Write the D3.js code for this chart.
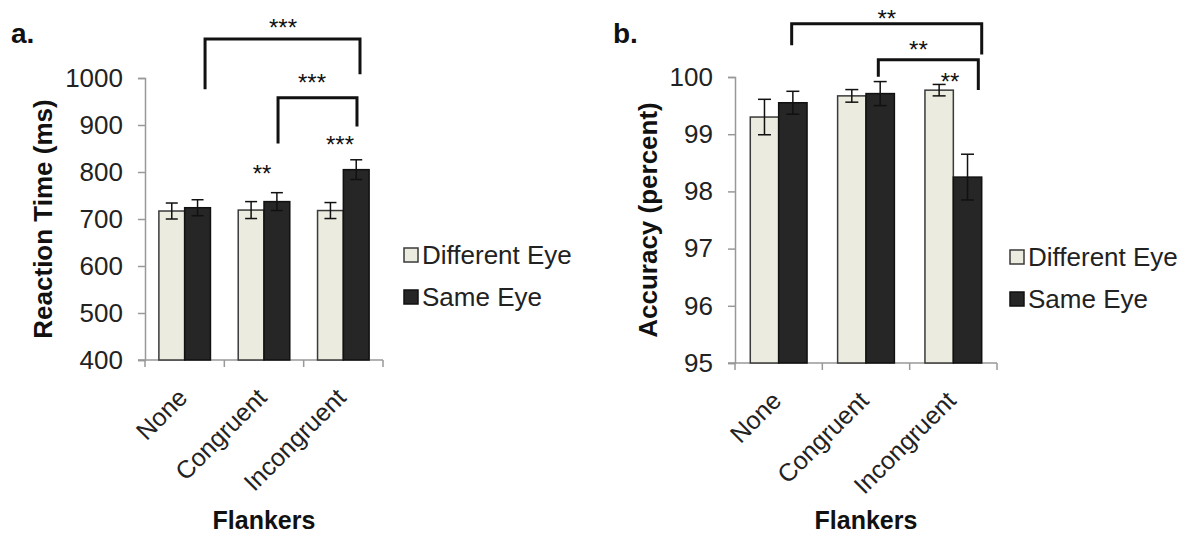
<!DOCTYPE html>
<html>
<head>
<meta charset="utf-8">
<script src="https://cdn.jsdelivr.net/npm/d3@7"></script>
<style>
  html, body { margin: 0; padding: 0; background: #fff; }
  svg { display: block; font-family: "Liberation Sans", Arial, Helvetica, sans-serif; }
</style>
</head>
<body>
<svg id="chart" width="1188" height="535"></svg>
<script>
// ---------- DATA ----------
const categories = ["None", "Congruent", "Incongruent"];
const seriesNames = ["Different Eye", "Same Eye"];

// Panel a: Reaction Time (ms)
const rtDifferent = [717, 719, 718];
const rtSame = [724, 737, 805];
const rtDifferentErr = [17, 18, 17];
const rtSameErr = [17, 19, 21];
const rtTicks = [400, 500, 600, 700, 800, 900, 1000];

// Panel b: Accuracy (percent)
const accDifferent = [99.30, 99.67, 99.77];
const accSame = [99.55, 99.71, 98.25];
const accDifferentErr = [0.31, 0.11, 0.10];
const accSameErr = [0.20, 0.21, 0.40];
const accTicks = [95, 96, 97, 98, 99, 100];

// Significance brackets: [fromCategory, fromFraction, toCategory, toFraction, topY, leftLegY, rightLegY]
const rtBrackets = [
  ["None", 0.757, "Incongruent", 0.71, 1083, 979, 1011],
  ["Congruent", 0.677, "Incongruent", 0.672, 958, 864, 900]
];
// Star labels: [text, category, fraction, y]
const rtStars = [
  ["***", "Congruent", 0.74, 1119],
  ["***", "Incongruent", 0.105, 1002],
  ["**", "Congruent", 0.475, 810],
  ["***", "Incongruent", 0.458, 872]
];
const accBrackets = [
  ["None", 0.649, "Incongruent", 0.825, 100.93, 100.58, 100.42],
  ["Congruent", 0.641, "Incongruent", 0.786, 100.30, 100.03, 99.80]
];
const accStars = [
  ["**", "Congruent", 0.738, 101.13],
  ["**", "Incongruent", 0.10, 100.59],
  ["**", "Incongruent", 0.462, 100.02]
];

// ---------- STYLE ----------
const fills = ["#ecebdf", "#262626"];
const strokes = ["#3a3a3a", "#111111"];
const axisColor = "#999999";
const textColor = "#222222";

const svg = d3.select("#chart");

function drawPanel(cfg) {
  const g = svg.append("g");
  const x = d3.scaleBand().domain(categories).range([cfg.x0, cfg.x1]).paddingInner(0).paddingOuter(0);
  const y = d3.scaleLinear().domain(cfg.domain).range([cfg.yBottom, cfg.yTop]);
  const bw = x.bandwidth();
  const sub = d3.scaleBand().domain(seriesNames).range([bw * 0.175, bw * 0.825]).padding(0);

  // y axis
  const yAxis = d3.axisLeft(y).tickValues(cfg.ticks).tickSize(7).tickPadding(15).tickFormat(d3.format("d"));
  const ya = g.append("g").attr("transform", `translate(${cfg.x0},0)`).call(yAxis);
  ya.select(".domain").attr("stroke", axisColor).attr("stroke-width", 1.5);
  ya.selectAll(".tick line").attr("stroke", axisColor).attr("stroke-width", 1.5);
  ya.selectAll(".tick text").attr("fill", textColor).attr("font-size", 26)
    .style("font-family", '"Liberation Sans", Arial, sans-serif');

  // x axis (ticks at band boundaries)
  const xa = g.append("g").attr("transform", `translate(0,${cfg.yBottom})`);
  xa.append("line").attr("x1", cfg.x0 - 7).attr("x2", cfg.x1).attr("y1", 0).attr("y2", 0)
    .attr("stroke", axisColor).attr("stroke-width", 1.5);
  const bounds = categories.map(c => x(c)).concat([cfg.x1]);
  xa.selectAll("line.bt").data(bounds).enter().append("line")
    .attr("class", "bt")
    .attr("x1", d => d).attr("x2", d => d).attr("y1", 0).attr("y2", 7)
    .attr("stroke", axisColor).attr("stroke-width", 1.5);

  // category labels
  g.selectAll("text.cat").data(categories).enter().append("text")
    .attr("class", "cat")
    .attr("transform", d => `translate(${x(d) + bw / 2 - 2},${cfg.yBottom + 33}) rotate(-45)`)
    .attr("text-anchor", "end")
    .attr("dy", "0.35em")
    .attr("font-size", 25)
    .attr("fill", textColor)
    .text(d => d);

  // bars
  const seriesVals = [cfg.diff, cfg.same];
  const seriesErr = [cfg.diffErr, cfg.sameErr];
  seriesNames.forEach((s, si) => {
    const rows = categories.map((c, i) => ({ c, v: seriesVals[si][i], e: seriesErr[si][i] }));
    g.selectAll(`rect.s${si}`).data(rows).enter().append("rect")
      .attr("class", `s${si}`)
      .attr("x", d => x(d.c) + sub(s))
      .attr("y", d => y(d.v))
      .attr("width", sub.bandwidth())
      .attr("height", d => y(cfg.domain[0]) - y(d.v))
      .attr("fill", fills[si])
      .attr("stroke", strokes[si])
      .attr("stroke-width", 1.5);
    // error bars
    const eg = g.selectAll(`g.e${si}`).data(rows).enter().append("g").attr("class", `e${si}`);
    const cx = d => x(d.c) + sub(s) + sub.bandwidth() / 2;
    eg.append("line").attr("x1", cx).attr("x2", cx)
      .attr("y1", d => y(d.v - d.e)).attr("y2", d => y(d.v + d.e))
      .attr("stroke", "#111").attr("stroke-width", 1.5);
    [1, -1].forEach(sgn => {
      eg.append("line")
        .attr("x1", d => cx(d) - cfg.cap / 2).attr("x2", d => cx(d) + cfg.cap / 2)
        .attr("y1", d => y(d.v + sgn * d.e)).attr("y2", d => y(d.v + sgn * d.e))
        .attr("stroke", "#111").attr("stroke-width", 1.5);
    });
  });

  // brackets
  cfg.brackets.forEach(b => {
    const xl = x(b[0]) + b[1] * bw, xr = x(b[2]) + b[3] * bw;
    g.append("path")
      .attr("d", `M${xl},${y(b[5])}V${y(b[4])}H${xr}V${y(b[6])}`)
      .attr("fill", "none").attr("stroke", "#111").attr("stroke-width", 3)
      .attr("stroke-linejoin", "miter").attr("stroke-linecap", "square");
  });
  cfg.stars.forEach(s => {
    g.append("text")
      .attr("x", x(s[1]) + s[2] * bw)
      .attr("y", y(s[3]))
      .attr("dy", "0.6em")
      .attr("text-anchor", "middle")
      .attr("font-size", 24)
      .attr("fill", "#111")
      .text(s[0]);
  });

  // y axis title
  g.append("text")
    .attr("transform", `translate(${cfg.titleX},${(cfg.yTop + cfg.yBottom) / 2}) rotate(-90)`)
    .attr("text-anchor", "middle")
    .attr("dy", "0.35em")
    .attr("font-size", 26).attr("font-weight", "bold").attr("fill", "#111")
    .text(cfg.yTitle);

  // x axis title
  g.append("text")
    .attr("x", (cfg.x0 + cfg.x1) / 2)
    .attr("y", 529)
    .attr("text-anchor", "middle")
    .attr("font-size", 25).attr("font-weight", "bold").attr("fill", "#111")
    .text("Flankers");

  // panel letter
  g.append("text")
    .attr("x", cfg.letterX).attr("y", 43)
    .attr("font-size", 28).attr("font-weight", "bold").attr("fill", "#111")
    .text(cfg.letter);

  // legend
  const lg = g.append("g").attr("transform", `translate(${cfg.legX},${cfg.legY})`);
  seriesNames.forEach((s, si) => {
    const row = lg.append("g").attr("transform", `translate(0,${si * 42})`);
    row.append("rect").attr("x", 0).attr("y", -7).attr("width", 14).attr("height", 14)
      .attr("fill", fills[si]).attr("stroke", strokes[si]).attr("stroke-width", 1.5);
    row.append("text").attr("x", 18).attr("y", 0).attr("dy", "0.35em")
      .attr("font-size", 26).attr("fill", textColor).text(s);
  });
}

drawPanel({
  x0: 145, x1: 383, yTop: 78, yBottom: 360, domain: [400, 1000], ticks: rtTicks,
  diff: rtDifferent, same: rtSame, diffErr: rtDifferentErr, sameErr: rtSameErr,
  brackets: rtBrackets, stars: rtStars, cap: 12,
  yTitle: "Reaction Time (ms)", titleX: 43, letter: "a.", letterX: 11,
  legX: 404, legY: 255
});

drawPanel({
  x0: 735, x1: 997, yTop: 77, yBottom: 363, domain: [95, 100], ticks: accTicks,
  diff: accDifferent, same: accSame, diffErr: accDifferentErr, sameErr: accSameErr,
  brackets: accBrackets, stars: accStars, cap: 13,
  yTitle: "Accuracy (percent)", titleX: 648, letter: "b.", letterX: 613,
  legX: 1010, legY: 257
});
</script>
</body>
</html>
